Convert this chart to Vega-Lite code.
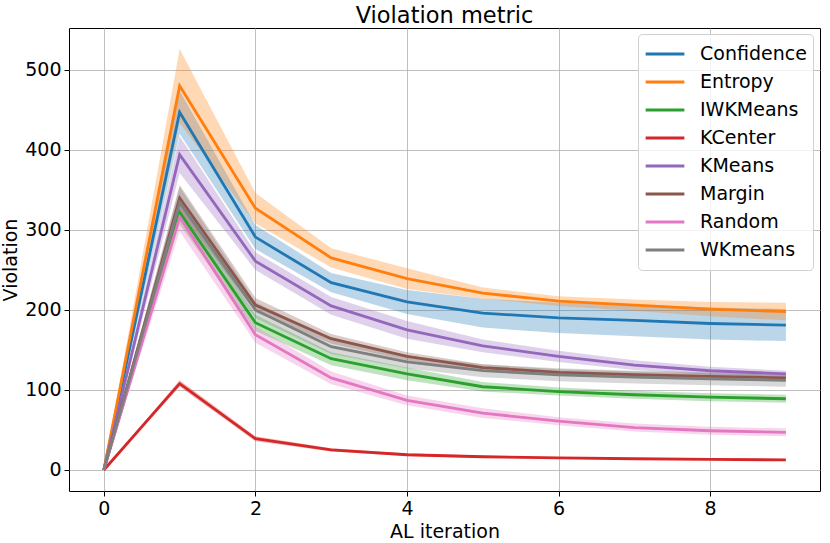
{
  "$schema": "https://vega.github.io/schema/vega-lite/v6.json",
  "autosize": "none",
  "padding": {"left": 69, "top": 28, "right": 10, "bottom": 52},
  "width": 751,
  "height": 463,
  "background": "white",
  "title": {
    "text": "Violation metric",
    "fontSize": 22.5,
    "fontWeight": "normal",
    "font": "DejaVu Sans",
    "color": "black",
    "offset": 1
  },
  "data": {
    "values": [
      {"iter": 0, "method": "Confidence", "mean": 0, "lo": 0, "hi": 0},
      {"iter": 1, "method": "Confidence", "mean": 447, "lo": 420, "hi": 474},
      {"iter": 2, "method": "Confidence", "mean": 291, "lo": 276, "hi": 306},
      {"iter": 3, "method": "Confidence", "mean": 234, "lo": 222, "hi": 246},
      {"iter": 4, "method": "Confidence", "mean": 210, "lo": 195, "hi": 225},
      {"iter": 5, "method": "Confidence", "mean": 196, "lo": 178, "hi": 214},
      {"iter": 6, "method": "Confidence", "mean": 190, "lo": 171, "hi": 209},
      {"iter": 7, "method": "Confidence", "mean": 187, "lo": 167, "hi": 207},
      {"iter": 8, "method": "Confidence", "mean": 183, "lo": 163, "hi": 203},
      {"iter": 9, "method": "Confidence", "mean": 181, "lo": 161, "hi": 201},
      {"iter": 0, "method": "Entropy", "mean": 0, "lo": 0, "hi": 0},
      {"iter": 1, "method": "Entropy", "mean": 480, "lo": 434, "hi": 526},
      {"iter": 2, "method": "Entropy", "mean": 327, "lo": 308, "hi": 346},
      {"iter": 3, "method": "Entropy", "mean": 265, "lo": 253, "hi": 277},
      {"iter": 4, "method": "Entropy", "mean": 239, "lo": 226, "hi": 252},
      {"iter": 5, "method": "Entropy", "mean": 221, "lo": 214, "hi": 228},
      {"iter": 6, "method": "Entropy", "mean": 211, "lo": 205, "hi": 217},
      {"iter": 7, "method": "Entropy", "mean": 206, "lo": 199, "hi": 213},
      {"iter": 8, "method": "Entropy", "mean": 201, "lo": 192, "hi": 210},
      {"iter": 9, "method": "Entropy", "mean": 198, "lo": 187, "hi": 209},
      {"iter": 0, "method": "IWKMeans", "mean": 0, "lo": 0, "hi": 0},
      {"iter": 1, "method": "IWKMeans", "mean": 322, "lo": 307, "hi": 337},
      {"iter": 2, "method": "IWKMeans", "mean": 184, "lo": 174, "hi": 194},
      {"iter": 3, "method": "IWKMeans", "mean": 139, "lo": 131, "hi": 147},
      {"iter": 4, "method": "IWKMeans", "mean": 120, "lo": 112, "hi": 128},
      {"iter": 5, "method": "IWKMeans", "mean": 104, "lo": 98, "hi": 110},
      {"iter": 6, "method": "IWKMeans", "mean": 98, "lo": 93, "hi": 103},
      {"iter": 7, "method": "IWKMeans", "mean": 94, "lo": 89, "hi": 99},
      {"iter": 8, "method": "IWKMeans", "mean": 91, "lo": 86, "hi": 96},
      {"iter": 9, "method": "IWKMeans", "mean": 89, "lo": 84, "hi": 94},
      {"iter": 0, "method": "KCenter", "mean": 0, "lo": 0, "hi": 0},
      {"iter": 1, "method": "KCenter", "mean": 108, "lo": 104, "hi": 112},
      {"iter": 2, "method": "KCenter", "mean": 39, "lo": 36, "hi": 42},
      {"iter": 3, "method": "KCenter", "mean": 25, "lo": 23, "hi": 27},
      {"iter": 4, "method": "KCenter", "mean": 19, "lo": 17.5, "hi": 20.5},
      {"iter": 5, "method": "KCenter", "mean": 16.5, "lo": 15, "hi": 18},
      {"iter": 6, "method": "KCenter", "mean": 15, "lo": 14, "hi": 16},
      {"iter": 7, "method": "KCenter", "mean": 14, "lo": 13, "hi": 15},
      {"iter": 8, "method": "KCenter", "mean": 13.3, "lo": 12.3, "hi": 14.3},
      {"iter": 9, "method": "KCenter", "mean": 12.5, "lo": 11.5, "hi": 13.5},
      {"iter": 0, "method": "KMeans", "mean": 0, "lo": 0, "hi": 0},
      {"iter": 1, "method": "KMeans", "mean": 394, "lo": 371, "hi": 417},
      {"iter": 2, "method": "KMeans", "mean": 261, "lo": 250, "hi": 272},
      {"iter": 3, "method": "KMeans", "mean": 205, "lo": 194, "hi": 216},
      {"iter": 4, "method": "KMeans", "mean": 175, "lo": 164, "hi": 186},
      {"iter": 5, "method": "KMeans", "mean": 155, "lo": 147, "hi": 163},
      {"iter": 6, "method": "KMeans", "mean": 142, "lo": 135, "hi": 149},
      {"iter": 7, "method": "KMeans", "mean": 131, "lo": 125, "hi": 137},
      {"iter": 8, "method": "KMeans", "mean": 124, "lo": 119, "hi": 129},
      {"iter": 9, "method": "KMeans", "mean": 120, "lo": 116, "hi": 124},
      {"iter": 0, "method": "Margin", "mean": 0, "lo": 0, "hi": 0},
      {"iter": 1, "method": "Margin", "mean": 340, "lo": 324, "hi": 356},
      {"iter": 2, "method": "Margin", "mean": 206, "lo": 197, "hi": 215},
      {"iter": 3, "method": "Margin", "mean": 164, "lo": 158, "hi": 170},
      {"iter": 4, "method": "Margin", "mean": 142, "lo": 137, "hi": 147},
      {"iter": 5, "method": "Margin", "mean": 128, "lo": 124, "hi": 132},
      {"iter": 6, "method": "Margin", "mean": 122, "lo": 118, "hi": 126},
      {"iter": 7, "method": "Margin", "mean": 119, "lo": 115, "hi": 123},
      {"iter": 8, "method": "Margin", "mean": 117, "lo": 113, "hi": 121},
      {"iter": 9, "method": "Margin", "mean": 115, "lo": 111, "hi": 119},
      {"iter": 0, "method": "Random", "mean": 0, "lo": 0, "hi": 0},
      {"iter": 1, "method": "Random", "mean": 316, "lo": 298, "hi": 334},
      {"iter": 2, "method": "Random", "mean": 169, "lo": 159, "hi": 179},
      {"iter": 3, "method": "Random", "mean": 115, "lo": 107, "hi": 123},
      {"iter": 4, "method": "Random", "mean": 87, "lo": 81, "hi": 93},
      {"iter": 5, "method": "Random", "mean": 71, "lo": 65, "hi": 77},
      {"iter": 6, "method": "Random", "mean": 61, "lo": 56, "hi": 66},
      {"iter": 7, "method": "Random", "mean": 53, "lo": 48, "hi": 58},
      {"iter": 8, "method": "Random", "mean": 49, "lo": 44, "hi": 54},
      {"iter": 9, "method": "Random", "mean": 47, "lo": 42, "hi": 52},
      {"iter": 0, "method": "WKmeans", "mean": 0, "lo": 0, "hi": 0},
      {"iter": 1, "method": "WKmeans", "mean": 334, "lo": 314, "hi": 354},
      {"iter": 2, "method": "WKmeans", "mean": 200, "lo": 190, "hi": 210},
      {"iter": 3, "method": "WKmeans", "mean": 154, "lo": 145, "hi": 163},
      {"iter": 4, "method": "WKmeans", "mean": 135, "lo": 127, "hi": 143},
      {"iter": 5, "method": "WKmeans", "mean": 124, "lo": 116, "hi": 132},
      {"iter": 6, "method": "WKmeans", "mean": 119, "lo": 111, "hi": 127},
      {"iter": 7, "method": "WKmeans", "mean": 116, "lo": 108, "hi": 124},
      {"iter": 8, "method": "WKmeans", "mean": 114, "lo": 106, "hi": 122},
      {"iter": 9, "method": "WKmeans", "mean": 112, "lo": 104, "hi": 120}
    ]
  },
  "encoding": {
    "x": {
      "field": "iter",
      "type": "quantitative",
      "title": "AL iteration",
      "scale": {"domain": [-0.46, 9.45], "nice": false, "zero": false},
      "axis": {"values": [0, 2, 4, 6, 8]}
    },
    "color": {
      "field": "method",
      "type": "nominal",
      "scale": {
        "domain": ["Confidence", "Entropy", "IWKMeans", "KCenter", "KMeans", "Margin", "Random", "WKmeans"],
        "range": ["#1f77b4", "#ff7f0e", "#2ca02c", "#d62728", "#9467bd", "#8c564b", "#e377c2", "#7f7f7f"]
      },
      "legend": {
        "title": null,
        "orient": "none",
        "legendX": 569,
        "legendY": 6,
        "symbolType": "stroke",
        "symbolSize": 1500,
        "symbolStrokeWidth": 2.8,
        "symbolOpacity": 1,
        "clipHeight": 28,
        "labelFontSize": 19,
        "labelOffset": 14,
        "rowPadding": 0,
        "padding": 6,
        "fillColor": "rgba(255,255,255,0.8)",
        "strokeColor": "#d0d0d0",
        "cornerRadius": 4
      }
    }
  },
  "layer": [
    {
      "mark": {"type": "area", "fillOpacity": 0.3},
      "encoding": {
        "y": {
          "field": "lo",
          "type": "quantitative",
          "title": "Violation",
          "scale": {"domain": [-26.3, 552.3], "nice": false, "zero": false},
          "axis": {"values": [0, 100, 200, 300, 400, 500]}
        },
        "y2": {"field": "hi"}
      }
    },
    {
      "mark": {"type": "line", "strokeWidth": 2.8},
      "encoding": {
        "y": {"field": "mean", "type": "quantitative"}
      }
    }
  ],
  "config": {
    "font": "DejaVu Sans",
    "view": {"stroke": "black", "strokeWidth": 1},
    "axis": {
      "labelFont": "DejaVu Sans",
      "titleFont": "DejaVu Sans",
      "labelFontSize": 19,
      "titleFontSize": 19,
      "titleFontWeight": "normal",
      "labelColor": "black",
      "titleColor": "black",
      "tickColor": "black",
      "tickSize": 5,
      "domain": false,
      "grid": true,
      "gridColor": "#b0b0b0",
      "gridWidth": 0.8,
      "labelPadding": 3,
      "titlePadding": 4
    },
    "legend": {"labelColor": "black", "labelFont": "DejaVu Sans"}
  }
}
